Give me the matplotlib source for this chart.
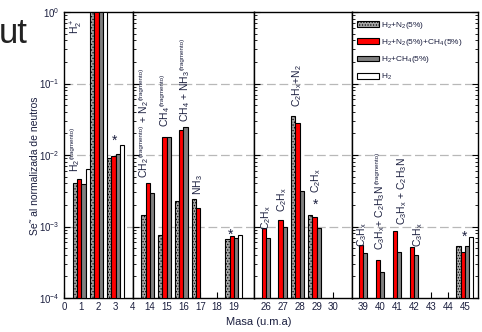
import numpy as np
import matplotlib
matplotlib.use("Agg")
import matplotlib.pyplot as plt
from matplotlib.ticker import LogLocator, NullFormatter, LogFormatterMathtext
from matplotlib.patches import Patch
from matplotlib.transforms import IdentityTransform

plt.rcParams['font.family'] = ['Liberation Sans', 'DejaVu Sans']
plt.rcParams['mathtext.default'] = 'regular'
plt.rcParams['hatch.linewidth'] = 0.6

nan = np.nan

# masses (u.m.a) and signal per gas mixture
masses = [1, 2, 3, 14, 15, 16, 17, 19, 26, 27, 28, 29, 39, 40, 41, 42, 45]
h2_n2 = [4.0e-3, 1.0, 9.0e-3, 1.35e-3, 6.7e-4, 2.2e-3, 2.3e-3, 5.6e-4,
         nan, nan, 3.5e-2, 1.35e-3, nan, nan, nan, nan, 4.4e-4]
h2_n2_ch4 = [4.5e-3, 1.0, 9.5e-3, 3.9e-3, 1.75e-2, 2.2e-2, 1.7e-3, 6.3e-4,
             8.5e-4, 1.15e-3, 2.8e-2, 1.26e-3, 4.6e-4, 2.4e-4, 7.6e-4, 4.1e-4, 3.4e-4]
h2_ch4 = [3.8e-3, 1.0, 1.03e-2, 2.8e-3, 1.75e-2, 2.45e-2, nan, 5.9e-4,
          5.9e-4, 8.9e-4, 3.0e-3, 8.5e-4, 3.2e-4, 1.3e-4, 3.4e-4, 3.0e-4, 4.4e-4]
h2 = [6.3e-3, 1.0, 1.35e-2, nan, nan, nan, nan, 6.6e-4,
      nan, nan, nan, nan, nan, nan, nan, nan, 6.1e-4]

series_labels = ['H$_2$+N$_2$(5%)', 'H$_2$+N$_2$(5%)+CH$_4$(5%)',
                 'H$_2$+CH$_4$(5%)', 'H$_2$']

# broken x axis: four panels
panel_lims = [(0, 4), (13, 20.2), (25.3, 31.1), (38.35, 45.77)]
panel_ticks = [[0, 1, 2, 3, 4], [14, 15, 16, 17, 18, 19],
               [26, 27, 28, 29, 30], [39, 40, 41, 42, 43, 44, 45]]
panel_px = [69, 121, 98, 126]

FR = '(fragmento)'
# species labels: panel, x, y (bottom of text), pieces (FR = small tag)
labels = [
    (0, 0.72, 0.5, ['H$_2^+$']),
    (0, 0.62, 5.8e-3, ['H$_2$', FR]),
    (1, 13.65, 4.8e-3, ['CH$_2$', FR, ' + N$_2$', FR]),
    (1, 14.92, 0.0246, ['CH$_4$', FR]),
    (1, 16.1, 0.029, ['CH$_4$ + NH$_3$', FR]),
    (1, 16.9, 2.75e-3, ['NH$_3$']),
    (2, 26.0, 8.9e-4, ['C$_2$H$_x$']),
    (2, 26.95, 1.6e-3, ['C$_2$H$_x$']),
    (2, 27.85, 0.047, ['C$_2$H$_x$+N$_2$']),
    (2, 28.95, 2.9e-3, ['C$_2$H$_x$']),
    (3, 38.95, 5.1e-4, ['C$_3$H$_x$']),
    (3, 40.0, 4.7e-4, ['C$_3$H$_x$+ C$_2$H$_3$N ', FR]),
    (3, 41.3, 1.05e-3, ['C$_3$H$_x$ + C$_2$H$_3$N']),
    (3, 42.25, 5.1e-4, ['C$_3$H$_x$']),
]
stars = [(0, 2.95, 1.6e-2), (1, 18.8, 7.6e-4), (2, 28.95, 2.0e-3), (3, 44.95, 7.1e-4)]

txt_col = '#1b1f3f'

fig = plt.figure(figsize=(4.82, 3.32), dpi=100)
gs = fig.add_gridspec(1, 4, width_ratios=panel_px, wspace=0,
                      left=64/482, right=478/482, bottom=1-298/332, top=1-12/332)
axes = [fig.add_subplot(gs[0, i]) for i in range(4)]

m = np.array(masses, dtype=float)
w = 0.25
styles = [
    dict(facecolor='#a8a8a8', hatch='......'),
    dict(facecolor='#ff0000'),
    dict(facecolor='#808080'),
    dict(facecolor='white'),
]
data = [h2_n2, h2_n2_ch4, h2_ch4, h2]
offsets = [-0.375, -0.125, 0.125, 0.375]

for i, ax in enumerate(axes):
    lo, hi = panel_lims[i]
    for vals, off, st in zip(data, offsets, styles):
        v = np.array(vals, dtype=float)
        sel = (m > lo) & (m < hi) & ~np.isnan(v)
        ax.bar(m[sel] + off, v[sel], width=w, bottom=1e-4, edgecolor='black',
               linewidth=0.8, **st, zorder=3)
    ax.set_yscale('log')
    ax.set_ylim(1e-4, 1)
    ax.set_xlim(lo, hi)
    ax.set_xticks(panel_ticks[i])
    for g in [1e-1, 1e-2, 1e-3]:
        ax.axhline(g, color='#b8b8b8', lw=0.9, ls=(0, (7, 3)), zorder=1)
    ax.yaxis.set_major_locator(LogLocator(base=10, numticks=10))
    ax.yaxis.set_minor_locator(LogLocator(base=10, subs=np.arange(2, 10), numticks=10))
    ax.tick_params(axis='both', which='both', direction='in', labelsize=7,
                   colors='black', labelcolor=txt_col)
    ax.tick_params(axis='y', which='major', length=4, width=0.8)
    ax.tick_params(axis='y', which='minor', length=2, width=0.6)
    ax.tick_params(axis='x', which='major', length=4, width=0.8, pad=3)
    ax.tick_params(axis='y', right=(i == 3), which='both')
    if i > 0:
        ax.yaxis.set_major_formatter(NullFormatter())
        ax.yaxis.set_minor_formatter(NullFormatter())
    else:
        ax.yaxis.set_major_formatter(LogFormatterMathtext())
        ax.yaxis.set_minor_formatter(NullFormatter())
    for sp in ax.spines.values():
        sp.set_linewidth(1.0)

# vertical labels built piece by piece so the "(fragmento)" tags stay small
renderer = fig.canvas.get_renderer()
for p, x, y, pieces in labels:
    ax = axes[p]
    px, py = ax.transData.transform((x, y))
    for piece in pieces:
        small = piece == FR
        t = fig.text(px - (3 if small else 0), py, piece, rotation=90,
                     ha='center', va='bottom', fontsize=4.5 if small else 7.5,
                     color=txt_col, zorder=4, transform=IdentityTransform())
        bb = t.get_window_extent(renderer)
        py += bb.height
for p, x, y in stars:
    axes[p].text(x, y, '*', ha='center', va='center', fontsize=10,
                 color=txt_col, zorder=4)

handles = [Patch(edgecolor='black', linewidth=0.8, **st) for st in styles]
axes[3].legend(handles, series_labels, loc='upper left', frameon=False,
               bbox_to_anchor=(0.0, 0.99), fontsize=6, handlelength=2.6,
               handleheight=0.7, handletextpad=0.3, labelspacing=0.75,
               borderaxespad=0.2, labelcolor=txt_col)

fig.text(35/482, 0.5, 'Se˜ al normalizada de neutros', rotation=90,
         ha='center', va='center', fontsize=7.5, color=txt_col)
fig.text(259/482, 1-322/332, 'Masa (u.m.a)', ha='center', va='center',
         fontsize=8, color=txt_col)
fig.text(28/482, 1-43/332, 'ut', ha='right', va='baseline', fontsize=25,
         color='#222222')

fig.savefig('out.png', dpi=100)
